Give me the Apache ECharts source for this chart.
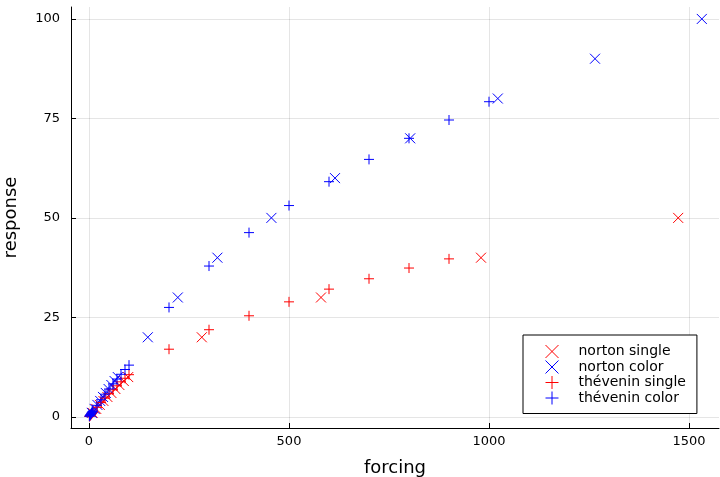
<!DOCTYPE html>
<html>
<head>
<meta charset="utf-8">
<script src="https://cdn.jsdelivr.net/npm/echarts@6/dist/echarts.min.js"></script>
<style>html,body{margin:0;padding:0;background:#fff}#c{width:720px;height:477px}</style>
</head>
<body>
<div id="c"></div>
<script>
// ---- data ----
const nortonSingleX = [9, 18, 27, 36, 46, 56, 66, 76, 87, 98, 282, 580, 980, 1473];
const nortonSingleY = [1, 2, 3, 4, 5, 6, 7, 8, 9, 10, 20, 30, 40, 50];
const nortonColorX = [7, 14, 21, 28, 35, 42, 49, 56, 64, 72, 147, 222, 321, 456, 615, 803, 1022, 1265, 1532];
const nortonColorY = [1, 2, 3, 4, 5, 6, 7, 8, 9, 10, 20, 30, 40, 50, 60, 70, 80, 90, 100];
const thevSingleX = [1, 2, 3, 4, 5, 6, 7, 8, 9, 10, 20, 30, 40, 50, 60, 70, 80, 90, 100, 200, 300, 400, 500, 600, 700, 800, 900];
const thevSingleY = [0.1, 0.2, 0.35, 0.45, 0.6, 0.7, 0.85, 0.95, 1.1, 1.2, 2.4, 3.6, 4.7, 5.8, 6.8, 7.8, 8.8, 9.7, 10.6, 17, 21.9, 25.4, 28.9, 32.1, 34.7, 37.4, 39.7];
const thevColorX = [1, 2, 3, 4, 5, 6, 7, 8, 9, 10, 20, 30, 40, 50, 60, 70, 80, 90, 100, 200, 300, 400, 500, 600, 700, 800, 900, 1000];
const thevColorY = [0.15, 0.3, 0.45, 0.6, 0.75, 0.9, 1.05, 1.2, 1.35, 1.5, 2.9, 4.3, 5.7, 7.0, 8.3, 9.5, 10.7, 11.9, 13, 27.5, 37.9, 46.3, 53.1, 59.1, 64.7, 70.0, 74.6, 79.2];
const xTickValues = [0, 500, 1000, 1500];
const yTickValues = [0, 25, 50, 75, 100];
const seriesNames = ['norton single', 'norton color', 'thévenin single', 'thévenin color'];

// ---- styling ----
const RED = '#ff0000', BLUE = '#0000ff';
const crossSym = 'path://M0,0L10,10M10,0L0,10';
const plusSym = 'path://M5,0L5,10M0,5L10,5';
const FONT = 'DejaVu Sans';

function pairs(xs, ys) { return xs.map((x, i) => [x, ys[i]]); }
function mk(name, xs, ys, sym, col) {
  return {
    name: name, type: 'scatter', data: pairs(xs, ys),
    symbol: sym, symbolSize: 10,
    itemStyle: { color: 'rgba(0,0,0,0)', borderColor: col, borderWidth: 1, opacity: 1 },
    emphasis: { disabled: true }, animation: false
  };
}

const chart = echarts.init(document.getElementById('c'), null, { renderer: 'canvas' });
chart.setOption({
  backgroundColor: '#fff',
  animation: false,
  textStyle: { fontFamily: FONT },
  grid: { left: 71, right: 1, top: 7, bottom: 49, containLabel: false, outerBoundsMode: 'none' },
  xAxis: {
    type: 'value', min: -45, max: 1575,
    name: 'forcing', nameLocation: 'middle', nameGap: 31,
    nameTextStyle: { fontSize: 18, color: '#000', fontFamily: FONT },
    axisLine: { show: true, onZero: false, lineStyle: { color: '#000', width: 1 } },
    axisTick: { show: true, inside: true, length: 5, customValues: xTickValues, lineStyle: { color: '#000' } },
    axisLabel: { customValues: xTickValues, color: '#000', fontSize: 13, margin: 7, fontFamily: FONT,
                 formatter: function (v) { return String(v); } },
    splitLine: { show: true, lineStyle: { color: 'rgba(0,0,0,0.1)', width: 1 } }
  },
  yAxis: {
    type: 'value', min: -2.8, max: 103,
    name: 'response', nameLocation: 'middle', nameGap: 51,
    nameTextStyle: { fontSize: 18, color: '#000', fontFamily: FONT },
    axisLine: { show: true, onZero: false, lineStyle: { color: '#000', width: 1 } },
    axisTick: { show: true, inside: true, length: 5, customValues: yTickValues, lineStyle: { color: '#000' } },
    axisLabel: { customValues: yTickValues, color: '#000', fontSize: 13, margin: 11, fontFamily: FONT,
                 formatter: function (v) { return String(v); } },
    splitLine: { show: true, lineStyle: { color: 'rgba(0,0,0,0.1)', width: 1 } }
  },
  legend: {
    orient: 'vertical', left: 523, top: 335,
    itemWidth: 15, itemHeight: 13, itemGap: 0.5,
    padding: [9, 11, 8, 22],
    backgroundColor: '#fff', borderColor: '#000', borderWidth: 1, borderRadius: 0,
    selectedMode: false,
    itemStyle: { borderWidth: 1 },
    data: seriesNames,
    textStyle: { fontSize: 14, color: '#000', lineHeight: 15, padding: [0, 0, 0, 14], fontFamily: FONT }
  },
  series: [
    mk(seriesNames[0], nortonSingleX, nortonSingleY, crossSym, RED),
    mk(seriesNames[1], nortonColorX, nortonColorY, crossSym, BLUE),
    mk(seriesNames[2], thevSingleX, thevSingleY, plusSym, RED),
    mk(seriesNames[3], thevColorX, thevColorY, plusSym, BLUE)
  ]
});
</script>
</body>
</html>
